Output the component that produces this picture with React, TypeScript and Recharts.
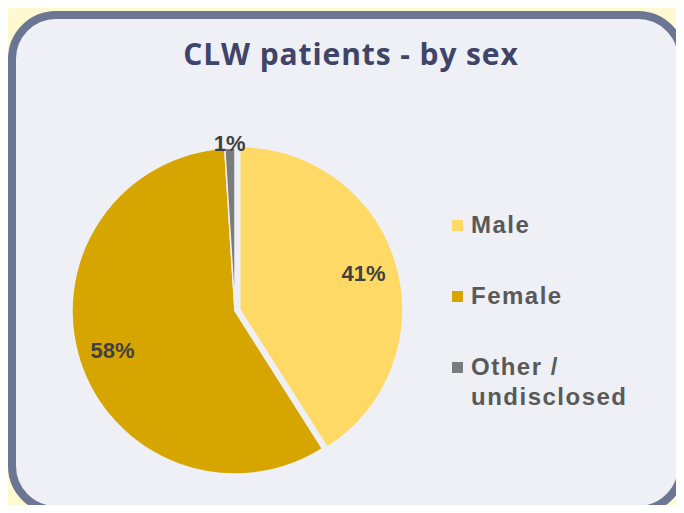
// CLW patients by sex — pie with exploded Male slice

import React from 'react';
import { PieChart, Pie, Cell, Sector, Legend } from 'recharts';

const categories = ['Male', 'Female', 'Other / undisclosed'];
const shares = [41, 58, 1];
const colors = ['#ffd966', '#d6a500', '#7b7b7b'];

const data = categories.map((name, i) => ({ name, value: shares[i] }));

const RAD = Math.PI / 180;
const CARD_BG = '#eef0f5';

// offset the Male slice out along its mid angle
function explode(midAngle: number, name: string) {
  const d = name === 'Male' ? 5 : 0;
  return { dx: d * Math.cos(-midAngle * RAD), dy: d * Math.sin(-midAngle * RAD) };
}

function renderShape(props: any) {
  const { dx, dy } = explode(props.midAngle, props.name ?? props.payload?.name);
  return <Sector {...props} cx={props.cx + dx} cy={props.cy + dy} />;
}

function renderLabel(props: any) {
  const { cx, cy, midAngle, outerRadius, value, name } = props;
  const { dx, dy } = explode(midAngle, name);
  const r = name === 'Other / undisclosed' ? outerRadius + 5 : outerRadius * 0.79;
  const x = cx + dx + r * Math.cos(-midAngle * RAD);
  const y = cy + dy + r * Math.sin(-midAngle * RAD);
  return (
    <text
      x={x}
      y={y}
      textAnchor="middle"
      dominantBaseline="central"
      fill="#404040"
      fontFamily='"Liberation Sans", Arial, sans-serif'
      fontWeight={700}
      fontSize={22}
    >
      {value}%
    </text>
  );
}

function LegendBox() {
  return (
    <div
      style={{
        position: 'relative',
        width: 220,
        height: 220,
        fontFamily: '"Liberation Sans", Arial, sans-serif',
        fontWeight: 700,
        fontSize: 24,
        letterSpacing: 1.5,
        color: '#595959',
      }}
    >
      {categories.map((c, i) => (
        <div key={c} style={{ position: 'absolute', top: i * 71, left: 0, display: 'flex' }}>
          <span
            style={{
              width: 11,
              height: 11,
              marginTop: 10,
              marginRight: 8,
              background: colors[i],
              flex: 'none',
            }}
          />
          <span style={{ lineHeight: '30px', width: 185 }}>{c}</span>
        </div>
      ))}
    </div>
  );
}

export default function App() {
  return (
    <div
      style={{
        position: 'relative',
        width: 684,
        height: 513,
        margin: -8,
        overflow: 'hidden',
        background: '#fff9d2',
      }}
    >
      <div
        style={{
          position: 'absolute',
          left: 8,
          top: 11,
          width: 678,
          height: 503,
          boxSizing: 'border-box',
          border: '8px solid #6b7594',
          borderRadius: 48,
          background: CARD_BG,
        }}
      />
      <div
        style={{
          position: 'absolute',
          top: 35,
          left: 0,
          width: 702,
          textAlign: 'center',
          fontFamily: '"Open Sans", sans-serif',
          fontWeight: 700,
          fontSize: 30,
          letterSpacing: 0.9,
          lineHeight: '38px',
          color: '#3f4468',
        }}
      >
        CLW patients - by sex
      </div>
      <div style={{ position: 'absolute', left: 0, top: 0 }}>
        <PieChart width={684} height={513} margin={{ top: 0, right: 0, bottom: 0, left: 0 }}>
          <Pie
            data={data}
            dataKey="value"
            nameKey="name"
            cx={235}
            cy={311}
            outerRadius={163}
            startAngle={90}
            endAngle={-270}
            stroke={CARD_BG}
            strokeWidth={1.5}
            label={renderLabel}
            labelLine={false}
            shape={renderShape}
            isAnimationActive={false}
          >
            {data.map((d, i) => (
              <Cell key={d.name} fill={colors[i]} />
            ))}
          </Pie>
          <Legend
            content={() => <LegendBox />}
            wrapperStyle={{ position: 'absolute', left: 452, top: 210, width: 230 }}
          />
        </PieChart>
      </div>
    </div>
  );
}
